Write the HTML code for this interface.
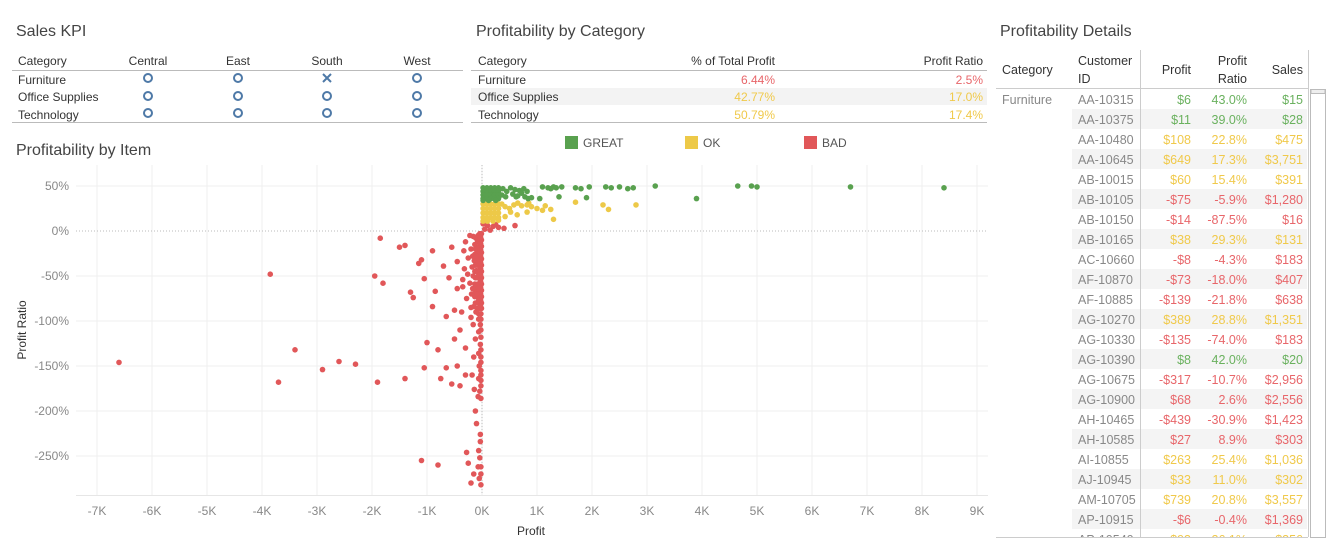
<!DOCTYPE html>
<html><head><meta charset="utf-8">
<style>
body{margin:0;background:#fff;width:1338px;height:550px;overflow:hidden;font-family:"Liberation Sans",sans-serif}
svg text{font-family:"Liberation Sans",sans-serif}
</style></head>
<body>
<svg id="root" width="1338" height="550" xmlns="http://www.w3.org/2000/svg">
<g font-size="12" fill="#333">
<text x="16" y="36" font-size="16" fill="#444">Sales KPI</text>
<text x="18" y="65">Category</text>
<text x="148" y="65" text-anchor="middle">Central</text>
<text x="238" y="65" text-anchor="middle">East</text>
<text x="327" y="65" text-anchor="middle">South</text>
<text x="417" y="65" text-anchor="middle">West</text>
<line x1="12" y1="70.5" x2="463" y2="70.5" stroke="#bbb"/>
<line x1="12" y1="122.5" x2="463" y2="122.5" stroke="#bbb"/>
<text x="18" y="84">Furniture</text>
<text x="18" y="101">Office Supplies</text>
<text x="18" y="119">Technology</text>
<g fill="none" stroke="#4e79a7" stroke-width="2">
<circle cx="148" cy="78" r="4"/><circle cx="238" cy="78" r="4"/>
<path d="M323 74l8 8M331 74l-8 8"/><circle cx="417" cy="78" r="4"/>
<circle cx="148" cy="96" r="4"/><circle cx="238" cy="96" r="4"/><circle cx="327" cy="96" r="4"/><circle cx="417" cy="96" r="4"/>
<circle cx="148" cy="113" r="4"/><circle cx="238" cy="113" r="4"/><circle cx="327" cy="113" r="4"/><circle cx="417" cy="113" r="4"/>
</g>
</g>
<g font-size="12">
<text x="476" y="36" font-size="16" fill="#444">Profitability by Category</text>
<rect x="471" y="88" width="516" height="17" fill="#f3f3f3"/>
<text x="478" y="65" fill="#333">Category</text>
<text x="775" y="65" fill="#333" text-anchor="end">% of Total Profit</text>
<text x="983" y="65" fill="#333" text-anchor="end">Profit Ratio</text>
<line x1="471" y1="70.5" x2="987" y2="70.5" stroke="#bbb"/>
<line x1="471" y1="122.5" x2="987" y2="122.5" stroke="#bbb"/>
<text x="478" y="84" fill="#333">Furniture</text>
<text x="478" y="101" fill="#333">Office Supplies</text>
<text x="478" y="119" fill="#333">Technology</text>
<text x="775" y="84" fill="#e8666a" text-anchor="end">6.44%</text>
<text x="983" y="84" fill="#e8666a" text-anchor="end">2.5%</text>
<text x="775" y="101" fill="#f0c94a" text-anchor="end">42.77%</text>
<text x="983" y="101" fill="#f0c94a" text-anchor="end">17.0%</text>
<text x="775" y="119" fill="#f0c94a" text-anchor="end">50.79%</text>
<text x="983" y="119" fill="#f0c94a" text-anchor="end">17.4%</text>
</g>
<g font-size="12" fill="#555">
<rect x="565" y="136" width="13" height="13" fill="#59a14f"/>
<text x="583" y="147">GREAT</text>
<rect x="685" y="136" width="13" height="13" fill="#edc948"/>
<text x="703" y="147">OK</text>
<rect x="804" y="136" width="13" height="13" fill="#e15759"/>
<text x="822" y="147">BAD</text>
</g>
<text x="16" y="155" font-size="16" fill="#444">Profitability by Item</text>
<g id="chart"></g>
<g id="details" font-size="12.5">
<text x="1000" y="36" font-size="16" fill="#444">Profitability Details</text>
<text x="1002" y="74" fill="#333">Category</text>
<text x="1078" y="65" fill="#333">Customer</text>
<text x="1078" y="83" fill="#333">ID</text>
<text x="1191" y="74" fill="#333" text-anchor="end">Profit</text>
<text x="1247" y="65" fill="#333" text-anchor="end">Profit</text>
<text x="1247" y="83" fill="#333" text-anchor="end">Ratio</text>
<text x="1303" y="74" fill="#333" text-anchor="end">Sales</text>
</g>
</svg>
<script>
// ===== Scatter data: [profit, profit ratio %] =====
const greatPoints = [
[20,48],[90,48],[160,48],[230,48],[300,48],[20,44],[90,44],[160,44],[230,44],[300,44],
[20,40],[90,40],[160,40],[230,40],[300,40],[20,36],[90,36],[160,36],[230,36],[300,36],
[20,34],[120,34],[250,34],[380,47],[450,44],[520,48],[600,46],[680,45],[760,47],[820,44],
[360,40],[430,38],[560,41],[650,39],[720,42],[840,36],[900,37],[1100,49],[1200,48],
[1300,49],[1450,49],[1250,47],[1350,48],[1700,48],[1800,47],[1950,49],[2250,49],[2350,48],
[2500,49],[2650,47],[2750,48],[3150,50],[4650,50],[4900,50],[5000,49],[6700,49],[8400,48],
[1400,38],[1050,36],[1900,37],[3900,36],[620,38],[780,38]
];
const okPoints = [
[20,30],[90,30],[160,30],[230,30],[300,30],[20,25],[90,25],[160,25],[230,25],[300,25],
[20,20],[90,20],[160,20],[230,20],[300,20],[20,15],[90,15],[160,15],[230,15],[300,15],
[20,11],[100,11],[200,11],[360,30],[420,27],[500,25],[580,29],[650,31],[720,28],[820,29],
[900,27],[1000,25],[1100,23],[1150,28],[1250,24],[820,21],[640,18],[520,21],[420,16],
[300,12],[1300,13],[1700,32],[2200,29],[2300,24],[2800,29],[850,31]
];
const badPoints = [
[20,8],[100,6],[200,5],[300,4],[400,3],[50,2],[150,1],[600,6],[250,7],
[-10,-3],[-40,-3],[-70,-5],[-110,-8],[-10,-10],[-40,-10],[-80,-12],[-130,-15],
[-10,-17],[-40,-17],[-80,-19],[-120,-20],[-10,-24],[-40,-24],[-80,-24],[-130,-26],
[-10,-31],[-40,-31],[-80,-31],[-140,-33],[-10,-38],[-40,-38],[-80,-38],[-120,-38],
[-10,-45],[-40,-45],[-80,-45],[-130,-45],[-10,-52],[-40,-52],[-80,-52],[-120,-52],
[-10,-59],[-40,-59],[-80,-59],[-130,-59],[-10,-66],[-40,-66],[-80,-66],[-120,-66],
[-10,-73],[-40,-73],[-80,-73],[-130,-73],[-10,-80],[-40,-80],[-80,-80],[-120,-80],
[-10,-86],[-40,-86],[-80,-86],[-20,-92],[-60,-92],[-20,-98],[-60,-98],[-30,-104],
[-160,-6],[-170,-28],[-160,-50],[-170,-64],[-150,-84],[-110,-90],[-100,-28],[-100,-62],
[-25,-7],[-25,-14],[-25,-21],[-25,-28],[-25,-35],[-25,-42],[-25,-49],[-25,-56],[-25,-63],
[-25,-70],[-25,-77],[-25,-84],[-60,-35],[-60,-49],[-60,-63],[-60,-77],[-100,-44],[-100,-70],
[-20,-110],[-60,-112],[-20,-118],[-30,-126],[-20,-132],[-60,-136],[-20,-140],
[-20,-146],[-50,-150],[-20,-155],[-20,-160],[-20,-166],[-60,-164],[-20,-172],[-40,-178],
[-20,-186],[-70,-184],[-220,-5],[-200,-20],[-250,-30],[-180,-40],[-260,-48],[-220,-58],
[-190,-70],[-280,-75],[-200,-85],[-300,-12],[-320,-42],[-350,-62],[-330,-22],[-370,-90],
[-6600,-146],[-3850,-48],[-3700,-168],[-3400,-132],[-2900,-154],[-2600,-145],[-2300,-148],
[-1900,-168],[-1850,-8],[-1400,-16],[-1950,-50],[-1800,-58],[-1500,-18],[-1400,-164],
[-1300,-68],[-1250,-74],[-1150,-36],[-1100,-32],[-1100,-255],[-1050,-53],[-1050,-152],
[-1000,-124],[-900,-84],[-900,-22],[-850,-67],[-800,-260],[-750,-164],[-800,-132],
[-700,-39],[-650,-95],[-650,-152],[-600,-52],[-550,-18],[-550,-170],[-500,-120],
[-450,-64],[-500,-88],[-450,-150],[-450,-34],[-400,-110],[-400,-172],[-350,-54],
[-300,-130],[-300,-160],[-280,-246],[-250,-258],[-200,-280],[-150,-270],[-120,-200],
[-100,-214],[-60,-244],[-40,-252],[-20,-262],[-20,-270],[-50,-275],[-20,-282],[-70,-262],
[-30,-226],[-30,-234],[-120,-120],[-150,-140],[-180,-160],[-200,-96],[-160,-104],[-140,-176]
];
const xTicks = [-7,-6,-5,-4,-3,-2,-1,0,1,2,3,4,5,6,7,8,9];
const yTicks = [50,0,-50,-100,-150,-200,-250];

const NS = 'http://www.w3.org/2000/svg';
const chart = document.getElementById('chart');
const xScale = v => 482 + v * 0.055;
const yScale = v => 231 - v * 0.9;
function mk(tag, attrs, parent){const e=document.createElementNS(NS,tag);for(const k in attrs)e.setAttribute(k,attrs[k]);parent.appendChild(e);return e;}

xTicks.forEach(t=>{
  const x=xScale(t*1000);
  const g=mk('line',{x1:x,y1:165,x2:x,y2:495,stroke:'#efefef'},chart);
  
  
  const lb=mk('text',{x:x,y:515,'text-anchor':'middle','font-size':12,fill:'#888'},chart);
  lb.textContent=t+'K';
  
  
});
yTicks.forEach(t=>{
  const y=yScale(t);
  if(t!==0){const g=mk('line',{x1:76,y1:y,x2:988,y2:y,stroke:'#efefef'},chart);
  
  }
  const lb=mk('text',{x:69,y:y+4,'text-anchor':'end','font-size':12,fill:'#888'},chart);
  lb.textContent=t+'%';
  
  
});
const zx=mk('line',{x1:xScale(0),y1:165,x2:xScale(0),y2:495,stroke:'#bbb','stroke-dasharray':'1,2'},chart);


const zy=mk('line',{x1:76,y1:yScale(0),x2:988,y2:yScale(0),stroke:'#bbb','stroke-dasharray':'1,2'},chart);


const xa=mk('line',{x1:76,y1:495.5,x2:988,y2:495.5,stroke:'#e6e6e6'},chart);


const xt=mk('text',{x:531,y:535,'text-anchor':'middle','font-size':12,fill:'#333'},chart);
xt.textContent='Profit';


const yt=mk('text',{x:0,y:0,'text-anchor':'middle','font-size':12,fill:'#333',transform:'translate(26,330) rotate(-90)'},chart);
yt.textContent='Profit Ratio';



function plot(arr,color,name){
  arr.forEach(p=>{
    const c=mk('circle',{cx:xScale(p[0]),cy:yScale(p[1]),r:2.8,fill:color},chart);
    
    
  });
}
plot(badPoints,'#e15759','bad-item-point');
plot(okPoints,'#edc948','ok-item-point');
plot(greatPoints,'#59a14f','great-item-point');

const custIds=['AA-10315','AA-10375','AA-10480','AA-10645','AB-10015','AB-10105','AB-10150','AB-10165','AC-10660','AF-10870','AF-10885','AG-10270','AG-10330','AG-10390','AG-10675','AG-10900','AH-10465','AH-10585','AI-10855','AJ-10945','AM-10705','AP-10915','AP-10540'];
const profits=['$6','$11','$108','$649','$60','-$75','-$14','$38','-$8','-$73','-$139','$389','-$135','$8','-$317','$68','-$439','$27','$263','$33','$739','-$6','$93'];
const ratios=['43.0%','39.0%','22.8%','17.3%','15.4%','-5.9%','-87.5%','29.3%','-4.3%','-18.0%','-21.8%','28.8%','-74.0%','42.0%','-10.7%','2.6%','-30.9%','8.9%','25.4%','11.0%','20.8%','-0.4%','26.1%'];
const sales=['$15','$28','$475','$3,751','$391','$1,280','$16','$131','$183','$407','$638','$1,351','$183','$20','$2,956','$2,556','$1,423','$303','$1,036','$302','$3,557','$1,369','$356'];
const grades=['G','G','Y','Y','Y','R','R','Y','R','R','R','Y','R','G','R','R','R','R','Y','Y','Y','R','Y'];
const det=document.getElementById('details');
const gc={G:'#6ab15e',Y:'#f0c94a',R:'#e8666a'};
const tbl=document.createElementNS(NS,'g');
tbl.setAttribute('clip-path','url(#tclip)');
det.appendChild(tbl);
const defs=mk('defs',{},det);
const cp=mk('clipPath',{id:'tclip'},defs);
mk('rect',{x:990,y:89,width:320,height:448},cp);
custIds.forEach((id,i)=>{
  const yc=99+i*20;
  if(i%2===1){const r=mk('rect',{x:1072,y:yc-10,width:235,height:20,fill:'#f4f4f4'},tbl);
    
    }
  const c=gc[grades[i]];
  const t1=mk('text',{x:1078,y:yc+5,fill:'#888'},tbl);t1.textContent=id;
  
  
  const t2=mk('text',{x:1191,y:yc+5,fill:c,'text-anchor':'end'},tbl);t2.textContent=profits[i];
  
  
  const t3=mk('text',{x:1247,y:yc+5,fill:c,'text-anchor':'end'},tbl);t3.textContent=ratios[i];
  
  
  const t4=mk('text',{x:1303,y:yc+5,fill:c,'text-anchor':'end'},tbl);t4.textContent=sales[i];
  
  
});
const fc=mk('text',{x:1002,y:104,fill:'#888'},det);fc.textContent='Furniture';


mk('line',{x1:1140.5,y1:50,x2:1140.5,y2:537,stroke:'#ccc'},det);
mk('line',{x1:1308.5,y1:50,x2:1308.5,y2:537,stroke:'#ccc'},det);
mk('line',{x1:996,y1:88.5,x2:1308,y2:88.5,stroke:'#ccc'},det);
mk('line',{x1:996,y1:537.5,x2:1308,y2:537.5,stroke:'#ccc'},det);
const sb=mk('rect',{x:1310.5,y:89.5,width:15,height:448,fill:'#fff',stroke:'#bbb'},det);


const th=mk('rect',{x:1311,y:89.5,width:14,height:4,fill:'#eee',stroke:'#bbb'},det);


</script>
</body></html>
